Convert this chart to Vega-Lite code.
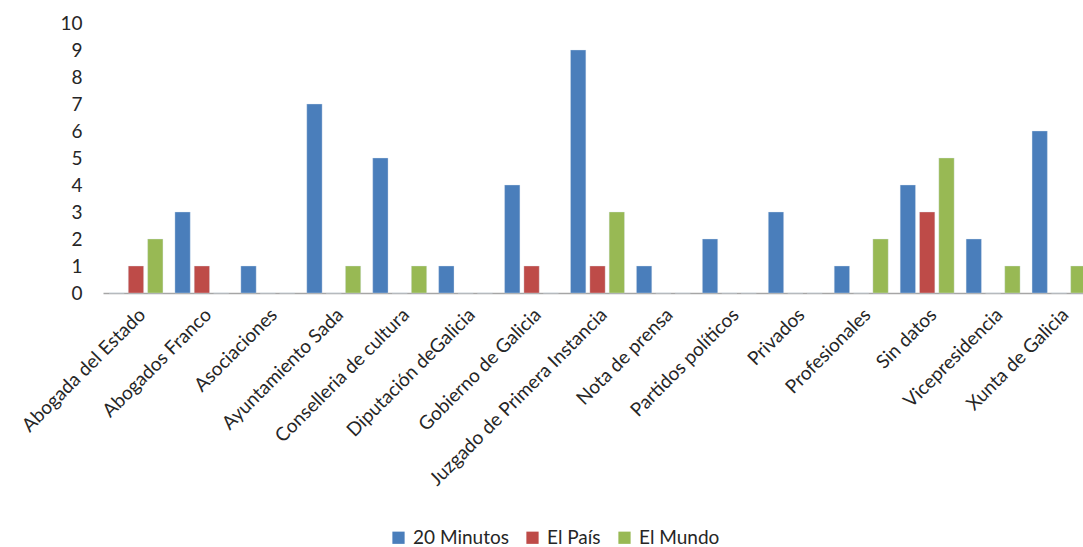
{
  "$schema": "https://vega.github.io/schema/vega-lite/v6.json",
  "width": 989,
  "height": 270,
  "autosize": {"type": "none"},
  "padding": {"left": 103, "top": 23, "right": 0, "bottom": 254},
  "background": "white",
  "data": {
    "values": [
      {"category": "Abogada del Estado", "series": "20 Minutos", "value": 0},
      {"category": "Abogada del Estado", "series": "El País", "value": 1},
      {"category": "Abogada del Estado", "series": "El Mundo", "value": 2},
      {"category": "Abogados Franco", "series": "20 Minutos", "value": 3},
      {"category": "Abogados Franco", "series": "El País", "value": 1},
      {"category": "Abogados Franco", "series": "El Mundo", "value": 0},
      {"category": "Asociaciones", "series": "20 Minutos", "value": 1},
      {"category": "Asociaciones", "series": "El País", "value": 0},
      {"category": "Asociaciones", "series": "El Mundo", "value": 0},
      {"category": "Ayuntamiento Sada", "series": "20 Minutos", "value": 7},
      {"category": "Ayuntamiento Sada", "series": "El País", "value": 0},
      {"category": "Ayuntamiento Sada", "series": "El Mundo", "value": 1},
      {"category": "Conselleria de cultura", "series": "20 Minutos", "value": 5},
      {"category": "Conselleria de cultura", "series": "El País", "value": 0},
      {"category": "Conselleria de cultura", "series": "El Mundo", "value": 1},
      {"category": "Diputación deGalicia", "series": "20 Minutos", "value": 1},
      {"category": "Diputación deGalicia", "series": "El País", "value": 0},
      {"category": "Diputación deGalicia", "series": "El Mundo", "value": 0},
      {"category": "Gobierno de Galicia", "series": "20 Minutos", "value": 4},
      {"category": "Gobierno de Galicia", "series": "El País", "value": 1},
      {"category": "Gobierno de Galicia", "series": "El Mundo", "value": 0},
      {"category": "Juzgado de Primera Instancia", "series": "20 Minutos", "value": 9},
      {"category": "Juzgado de Primera Instancia", "series": "El País", "value": 1},
      {"category": "Juzgado de Primera Instancia", "series": "El Mundo", "value": 3},
      {"category": "Nota de prensa", "series": "20 Minutos", "value": 1},
      {"category": "Nota de prensa", "series": "El País", "value": 0},
      {"category": "Nota de prensa", "series": "El Mundo", "value": 0},
      {"category": "Partidos políticos", "series": "20 Minutos", "value": 2},
      {"category": "Partidos políticos", "series": "El País", "value": 0},
      {"category": "Partidos políticos", "series": "El Mundo", "value": 0},
      {"category": "Privados", "series": "20 Minutos", "value": 3},
      {"category": "Privados", "series": "El País", "value": 0},
      {"category": "Privados", "series": "El Mundo", "value": 0},
      {"category": "Profesionales", "series": "20 Minutos", "value": 1},
      {"category": "Profesionales", "series": "El País", "value": 0},
      {"category": "Profesionales", "series": "El Mundo", "value": 2},
      {"category": "Sin datos", "series": "20 Minutos", "value": 4},
      {"category": "Sin datos", "series": "El País", "value": 3},
      {"category": "Sin datos", "series": "El Mundo", "value": 5},
      {"category": "Vicepresidencia", "series": "20 Minutos", "value": 2},
      {"category": "Vicepresidencia", "series": "El País", "value": 0},
      {"category": "Vicepresidencia", "series": "El Mundo", "value": 1},
      {"category": "Xunta de Galicia", "series": "20 Minutos", "value": 6},
      {"category": "Xunta de Galicia", "series": "El País", "value": 0},
      {"category": "Xunta de Galicia", "series": "El Mundo", "value": 1}
    ]
  },
  "mark": {"type": "bar", "strokeWidth": 1, "strokeOpacity": 0.35, "stroke": "#DDE6F2"},
  "encoding": {
    "x": {
      "field": "category",
      "type": "nominal",
      "sort": null,
      "scale": {"paddingInner": 0, "paddingOuter": 0},
      "axis": {
        "title": null,
        "labelAngle": -45,
        "labelFontSize": 19,
        "labelFont": "Lato",
        "labelColor": "#262626",
        "labelPadding": 12,
        "labelDx": -5,
        "ticks": false,
        "domainColor": "#A6A6A6",
        "domainWidth": 1.5,
        "labelOverlap": false,
        "labelLimit": 400
      }
    },
    "xOffset": {
      "field": "series",
      "sort": ["20 Minutos", "El País", "El Mundo"],
      "scale": {"paddingInner": 0.207, "paddingOuter": 0.31}
    },
    "y": {
      "field": "value",
      "type": "quantitative",
      "scale": {"domain": [0, 10], "nice": false},
      "axis": {
        "title": null,
        "values": [0, 1, 2, 3, 4, 5, 6, 7, 8, 9, 10],
        "grid": false,
        "domain": false,
        "ticks": false,
        "labelFontSize": 19,
        "labelFont": "Lato",
        "labelColor": "#262626",
        "labelPadding": 21
      }
    },
    "color": {
      "field": "series",
      "type": "nominal",
      "sort": ["20 Minutos", "El País", "El Mundo"],
      "scale": {
        "domain": ["20 Minutos", "El País", "El Mundo"],
        "range": ["#4A7EBB", "#BE4B48", "#98B954"]
      },
      "legend": {
        "title": null,
        "orient": "none",
        "direction": "horizontal",
        "legendX": 286,
        "legendY": 505,
        "symbolType": "square",
        "symbolSize": 150,
        "symbolStrokeWidth": 0,
        "labelFontSize": 19,
        "labelFont": "Lato",
        "labelColor": "#262626",
        "labelOffset": 5,
        "columnPadding": 14
      }
    }
  },
  "config": {"view": {"stroke": null}}
}
